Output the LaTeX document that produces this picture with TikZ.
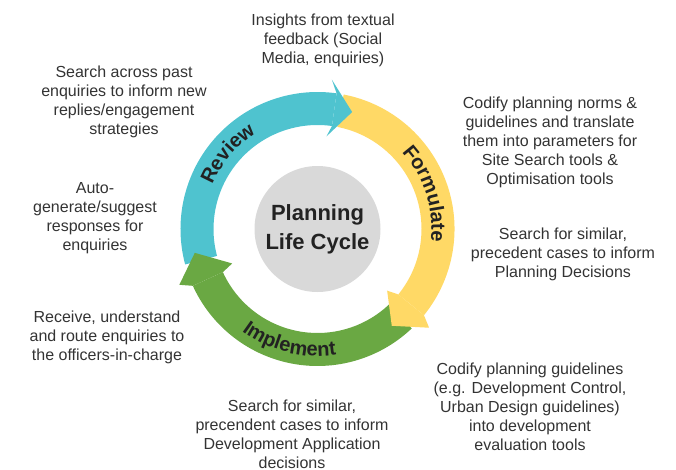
\documentclass[tikz,border=0pt]{standalone}
\usepackage{fontspec}
\setmainfont{Liberation Sans}
\usepackage{xcolor}
\usepackage{tikz}
\usetikzlibrary{decorations.text}

\definecolor{reviewteal}{HTML}{4FC3CF}
\definecolor{formyellow}{HTML}{FFD966}
\definecolor{implgreen}{HTML}{6AA843}
\definecolor{hubgray}{HTML}{D9D9D9}
\definecolor{txtgray}{HTML}{333333}
\definecolor{lbldark}{HTML}{222222}

\begin{document}
\begin{tikzpicture}[x=1pt, y=1pt,
    desc/.style={align=center, text=txtgray, inner sep=0pt,
                 font=\fontsize{16}{19}\selectfont},
    hub/.style={circle, fill=hubgray, minimum size=126pt, inner sep=0pt,
                align=center, text=lbldark,
                font=\bfseries\fontsize{22}{29}\selectfont},
    arclabel/.style={decorate, decoration={text along path, text align=center,
                 text color=lbldark, text={|\bfseries\fontsize{20}{20}\selectfont|#1}}}
]
    \useasboundingbox (-317.5,-240) rectangle (358.5,229);

    % ── Corps des trois fleches (anneau r=104..137) ──
    \fill[reviewteal] (195:137) arc[start angle=195, end angle=82, radius=137pt]
        -- (82:104) arc[start angle=82, end angle=195, radius=104pt] -- cycle;
    \fill[formyellow] (79:137) arc[start angle=79, end angle=-39, radius=137pt]
        -- (-39:104) arc[start angle=-39, end angle=79, radius=104pt] -- cycle;
    \fill[implgreen] (-46.5:137) arc[start angle=-46.5, end angle=-155.5, radius=137pt]
        -- (-155.5:104) arc[start angle=-155.5, end angle=-46.5, radius=104pt] -- cycle;

    % ── Pointes (par-dessus les queues) ──
    \fill[reviewteal] (82:137) -- (84.5:150) -- (73.5:122) -- (84.5:93) -- (82:104) -- cycle;
    \fill[formyellow] (-39:137) -- (-41.5:149) -- (-52.5:122) -- (-41.5:93) -- (-39:104) -- cycle;
    \fill[implgreen] (-155.5:137) -- (-158:149) -- (-169:125) -- (-158:92) -- (-155.5:104) -- cycle;

    % ── Etiquettes le long des arcs ──
    \path[arclabel=Review] (200:114) arc[start angle=200, end angle=80, radius=114pt];
    \path[arclabel=Formulate] (78:114) arc[start angle=78, end angle=-42, radius=114pt];
    \path[arclabel=Implement] (-164:127) arc[start angle=-164, end angle=-44, radius=127pt];

    % ── Centre ──
    \node[hub] (Hub) at (0,0) {Planning\\Life Cycle};

    % ── Textes autour du cycle ──
    \node[desc] (Insights) at (5.5,188.5) {Insights from textual\\feedback (Social\\Media, enquiries)};
    \node[desc] (PastSearch) at (-193.5,127.5) {Search across past\\enquiries to inform new\\replies/engagement\\strategies};
    \node[desc] (CodifyNorms) at (232.5,87) {Codify planning norms \&\\guidelines and translate\\them into parameters for\\Site Search tools \&\\Optimisation tools};
    \node[desc] (PrecPlan) at (245.5,-25) {Search for similar,\\precedent cases to inform\\Planning Decisions};
    \node[desc] (AutoGen) at (-222.5,10.5) {Auto-\\generate/suggest\\responses for\\enquiries};
    \node[desc] (Route) at (-210.5,-108) {Receive, understand\\and route enquiries to\\the officers-in-charge};
    \node[desc] (PrecDev) at (-25.5,-205) {Search for similar,\\precendent cases to inform\\Development Application\\decisions};
    \node[desc] (CodifyGuide) at (212.5,-177.5) {Codify planning guidelines\\(e.g. Development Control,\\Urban Design guidelines)\\into development\\evaluation tools};

\end{tikzpicture}
\end{document}
